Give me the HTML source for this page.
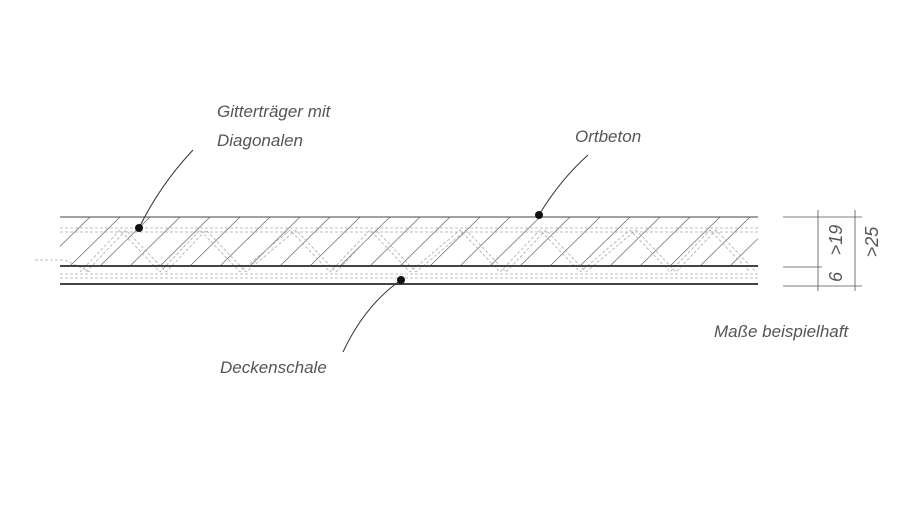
<!DOCTYPE html>
<html><head><meta charset="utf-8"><style>
html,body{margin:0;padding:0;background:#fff;}
svg{display:block}
text{font-family:"Liberation Sans",sans-serif;font-style:italic;fill:#555;}
</style></head><body>
<svg width="900" height="512" viewBox="0 0 900 512" xmlns="http://www.w3.org/2000/svg">
<defs>
<clipPath id="c"><rect x="60" y="217" width="698" height="49"/></clipPath>
</defs>
<g clip-path="url(#c)" stroke="#666" stroke-width="0.7">
<path d="M40 266 L90 217 M70 266 L120 217 M100 266 L150 217 M130 266 L180 217 M160 266 L210 217 M190 266 L240 217 M220 266 L270 217 M250 266 L300 217 M280 266 L330 217 M310 266 L360 217 M340 266 L390 217 M370 266 L420 217 M400 266 L450 217 M430 266 L480 217 M460 266 L510 217 M490 266 L540 217 M520 266 L570 217 M550 266 L600 217 M580 266 L630 217 M610 266 L660 217 M640 266 L690 217 M670 266 L720 217 M700 266 L750 217 M730 266 L780 217"/>
</g>
<g stroke="#aaa" stroke-width="0.8" stroke-dasharray="3,2" fill="none">
<path d="M60 228 H758 M60 232 H758"/>
<path d="M60 274 H758 M60 278 H758"/>
<path d="M35 260 H65 L90 272"/>
<path d="M80 272 L120 230 L160 272 L200 230 L240 272 L290 230 L330 272 L370 230 L410 272 L460 230 L500 272 L540 230 L580 272 L630 230 L670 272 L710 230 L750 272"/>
<path d="M86 272 L126 230 L166 272 L206 230 L246 272 L296 230 L336 272 L376 230 L416 272 L466 230 L506 272 L546 230 L586 272 L636 230 L676 272 L716 230 L756 272"/>
</g>
<g stroke="#444" fill="none">
<path d="M60 217 H758" stroke-width="1"/>
<path d="M60 266 H758" stroke-width="2"/>
<path d="M60 284 H758" stroke-width="2"/>
</g>
<g stroke="#333" stroke-width="1" fill="none">
<path d="M193 150 Q160 185 139 228"/>
<path d="M588 155 Q560 180 539 215"/>
<path d="M343 352 Q365 305 401 280"/>
</g>
<circle cx="139" cy="228" r="4" fill="#111"/>
<circle cx="539" cy="215" r="4" fill="#111"/>
<circle cx="401" cy="280" r="4" fill="#111"/>
<g stroke="#555" stroke-width="0.8" fill="none">
<path d="M783 217 H862 M783 267 H822 M783 286 H862"/>
<path d="M818 210 V291 M855 210 V291"/>
</g>
<text transform="translate(842,240) rotate(-90)" font-size="18" text-anchor="middle">&gt;19</text>
<text transform="translate(842,277) rotate(-90)" font-size="18" text-anchor="middle">6</text>
<text transform="translate(878,242) rotate(-90)" font-size="18" text-anchor="middle">&gt;25</text>
<text x="217" y="117" font-size="17">Gitterträger mit</text>
<text x="217" y="146" font-size="17">Diagonalen</text>
<text x="575" y="142" font-size="17">Ortbeton</text>
<text x="220" y="373" font-size="17">Deckenschale</text>
<text x="714" y="337" font-size="17">Maße beispielhaft</text>
</svg>
</body></html>
